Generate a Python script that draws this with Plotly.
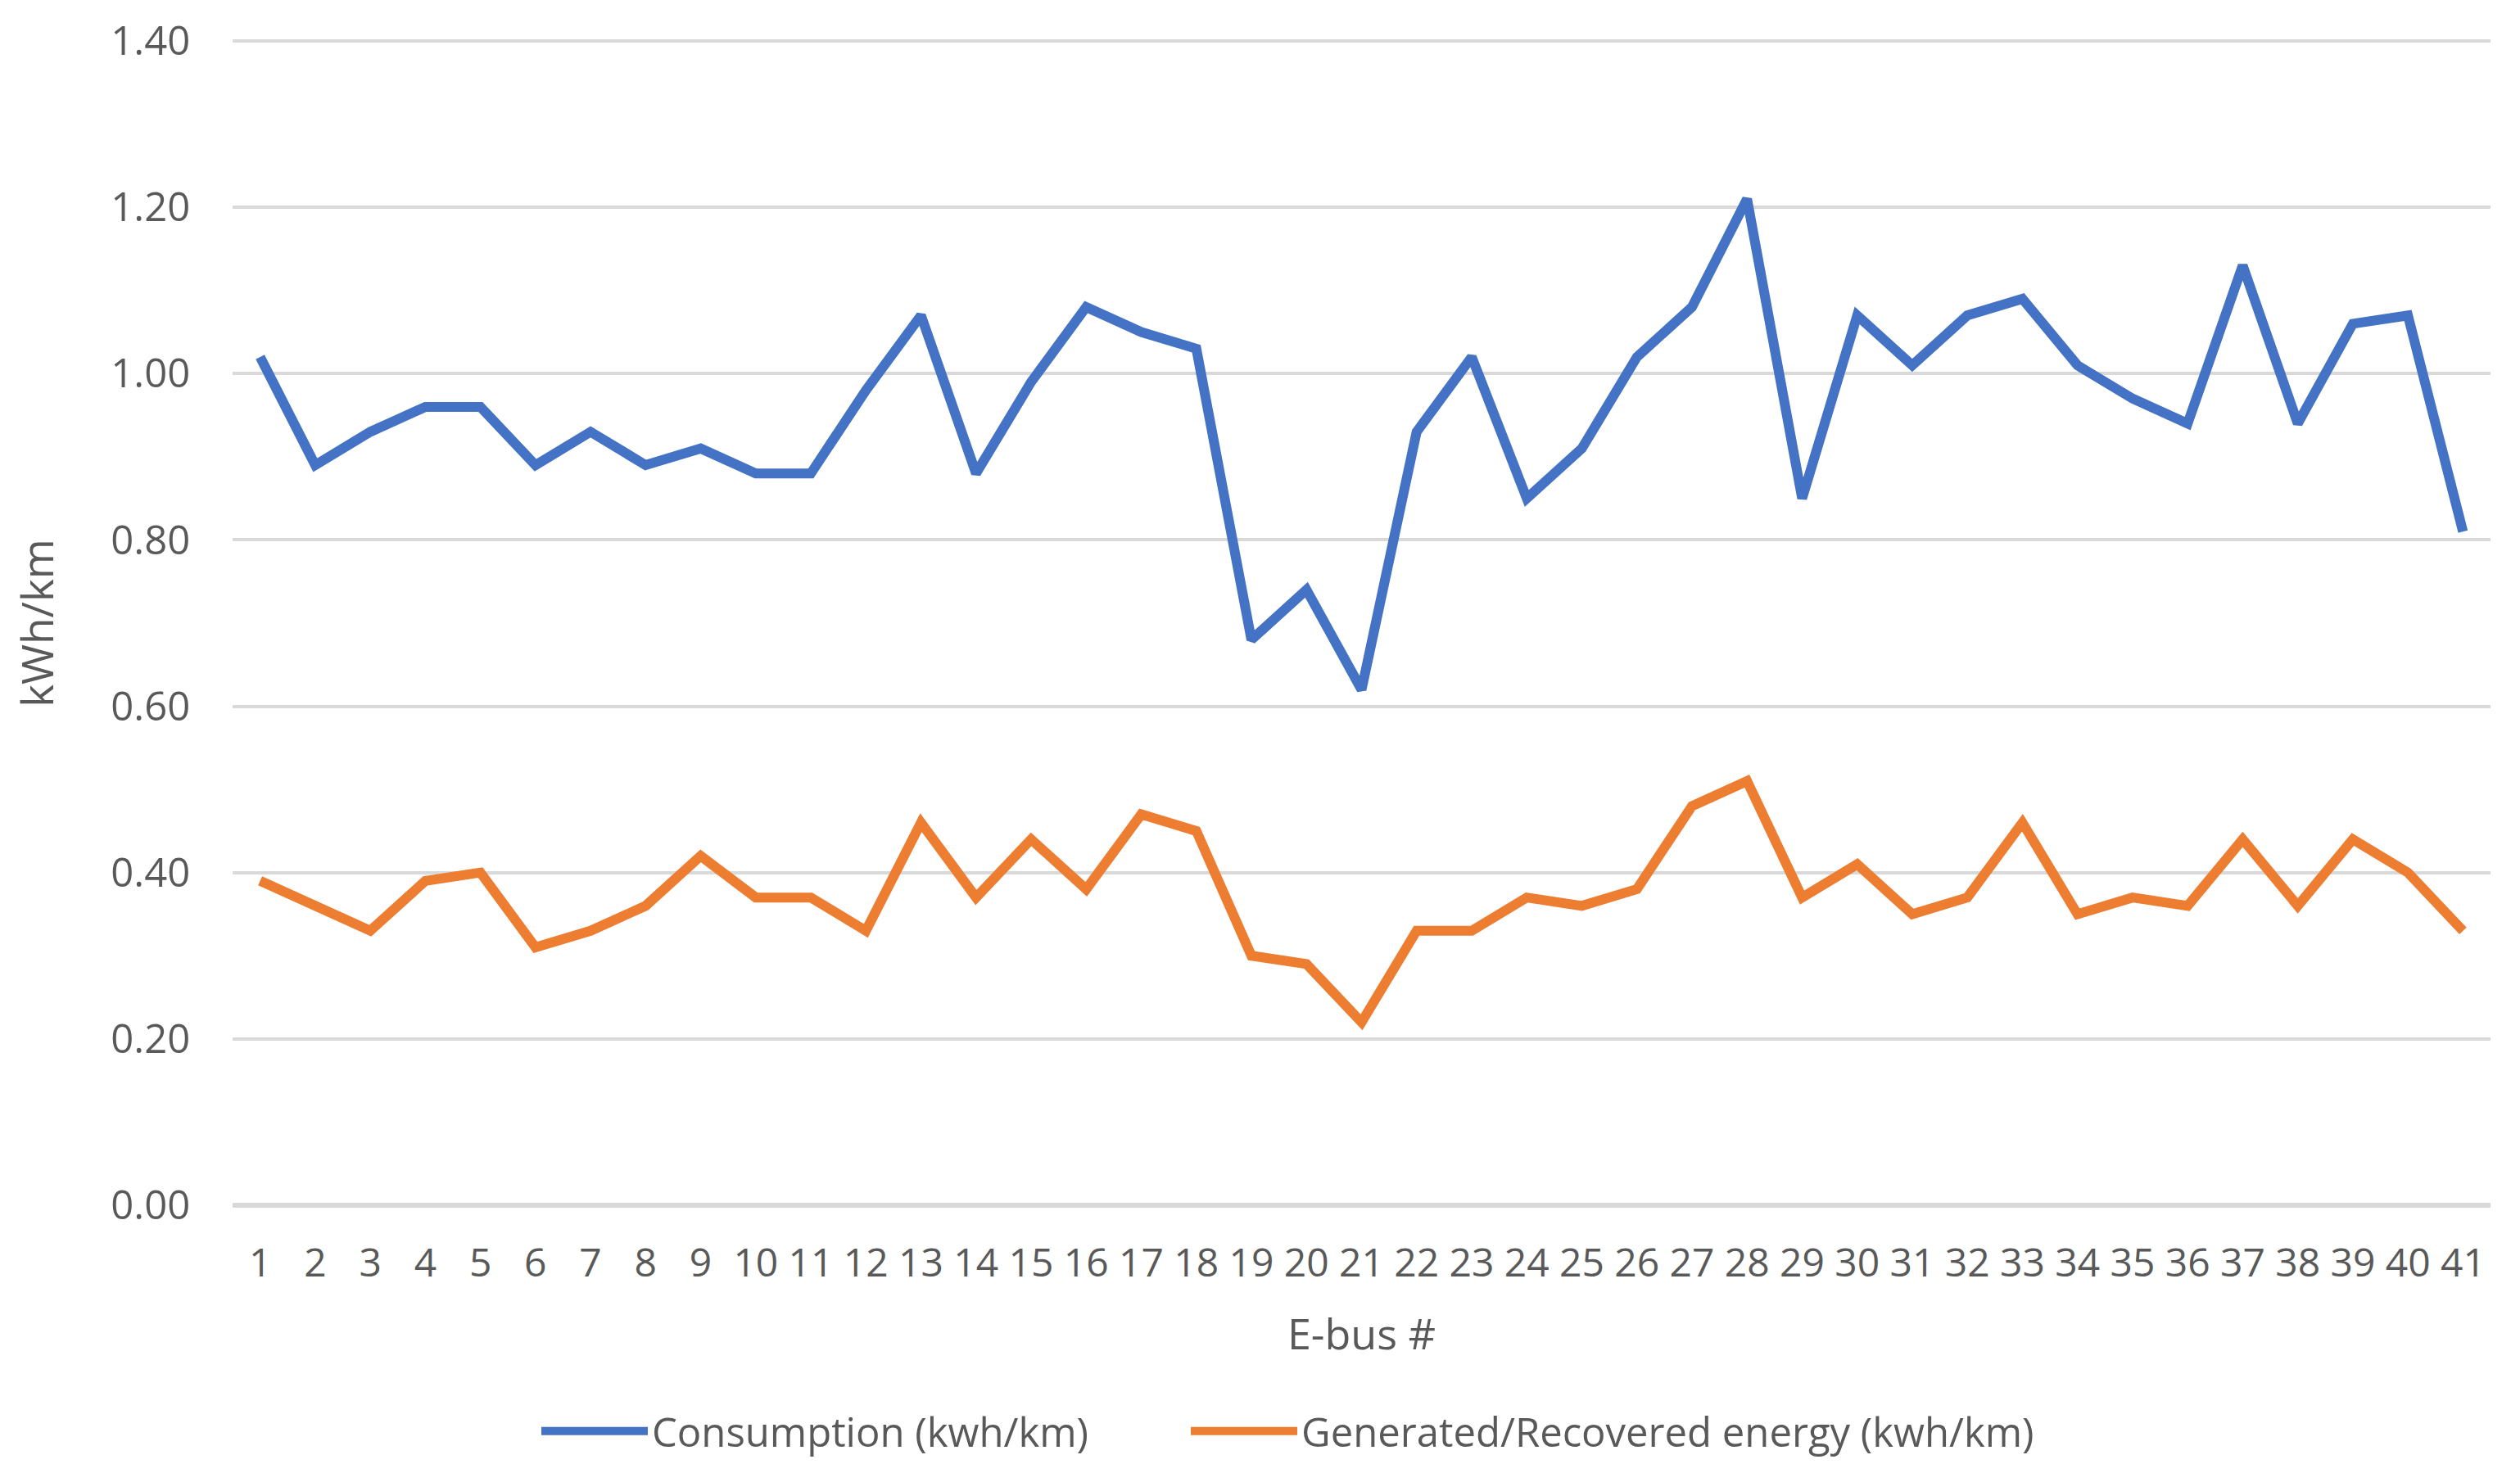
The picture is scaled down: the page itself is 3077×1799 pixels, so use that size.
import plotly.graph_objects as go

bus_numbers = list(range(1, 42))
consumption = [1.02, 0.89, 0.93, 0.96, 0.96, 0.89, 0.93, 0.89, 0.91, 0.88,
               0.88, 0.98, 1.07, 0.88, 0.99, 1.08, 1.05, 1.03, 0.68, 0.74,
               0.62, 0.93, 1.02, 0.85, 0.91, 1.02, 1.08, 1.21, 0.85, 1.07,
               1.01, 1.07, 1.09, 1.01, 0.97, 0.94, 1.13, 0.94, 1.06, 1.07,
               0.81]
generated = [0.39, 0.36, 0.33, 0.39, 0.40, 0.31, 0.33, 0.36, 0.42, 0.37,
             0.37, 0.33, 0.46, 0.37, 0.44, 0.38, 0.47, 0.45, 0.30, 0.29,
             0.22, 0.33, 0.33, 0.37, 0.36, 0.38, 0.48, 0.51, 0.37, 0.41,
             0.35, 0.37, 0.46, 0.35, 0.37, 0.36, 0.44, 0.36, 0.44, 0.40,
             0.33]
y_ticks = [0.0, 0.2, 0.4, 0.6, 0.8, 1.0, 1.2, 1.4]

FONT = "Open Sans"
GRAY = "#595959"
# page body has an 8px margin; the figure fills the rest of the window
W, H = 3061, 1783

fig = go.Figure()
fig.add_trace(go.Scatter(x=bus_numbers, y=consumption, mode="lines",
                         name="Consumption (kwh/km)", legend="legend",
                         line=dict(color="#4472C4", width=12)))
fig.add_trace(go.Scatter(x=bus_numbers, y=generated, mode="lines",
                         name="Generated/Recovered energy (kwh/km)", legend="legend2",
                         line=dict(color="#ED7D31", width=12)))

legend_common = dict(orientation="h", xref="container", yref="container",
                     xanchor="left", yanchor="middle", itemwidth=130,
                     bgcolor="rgba(0,0,0,0)",
                     font=dict(family=FONT, size=49, color=GRAY),
                     itemclick=False, itemdoubleclick=False)

fig.update_layout(
    width=W, height=H,
    margin=dict(l=276, r=28, t=38, b=315),
    paper_bgcolor="white", plot_bgcolor="white",
    font=dict(family=FONT, color=GRAY, size=48),
    showlegend=True,
    legend=dict(x=648 / W, y=1 - 1740 / H, **legend_common),
    legend2=dict(x=1441 / W, y=1 - 1740 / H, **legend_common),
    xaxis=dict(range=[0.5, 41.5], tickmode="array", tickvals=bus_numbers,
               ticktext=[str(b) for b in bus_numbers],
               showgrid=False, zeroline=False, showline=False, automargin=False,
               ticks="outside", ticklen=24, tickcolor="rgba(0,0,0,0)",
               tickfont=dict(size=48, color=GRAY),
               title=dict(text="E-bus #", font=dict(size=52, color=GRAY), standoff=40)),
    yaxis=dict(range=[-0.004, 1.404], tickmode="array", tickvals=y_ticks,
               ticktext=[f"{v:.2f}" for v in y_ticks],
               showgrid=True, gridcolor="#D9D9D9", gridwidth=4,
               zeroline=True, zerolinecolor="#D9D9D9", zerolinewidth=6,
               showline=False, automargin=False,
               ticks="outside", ticklen=41, tickcolor="rgba(0,0,0,0)",
               tickfont=dict(size=49, color=GRAY),
               title=dict(text="kWh/km", font=dict(size=53, color=GRAY), standoff=56)),
)

fig.write_html("out.html")
